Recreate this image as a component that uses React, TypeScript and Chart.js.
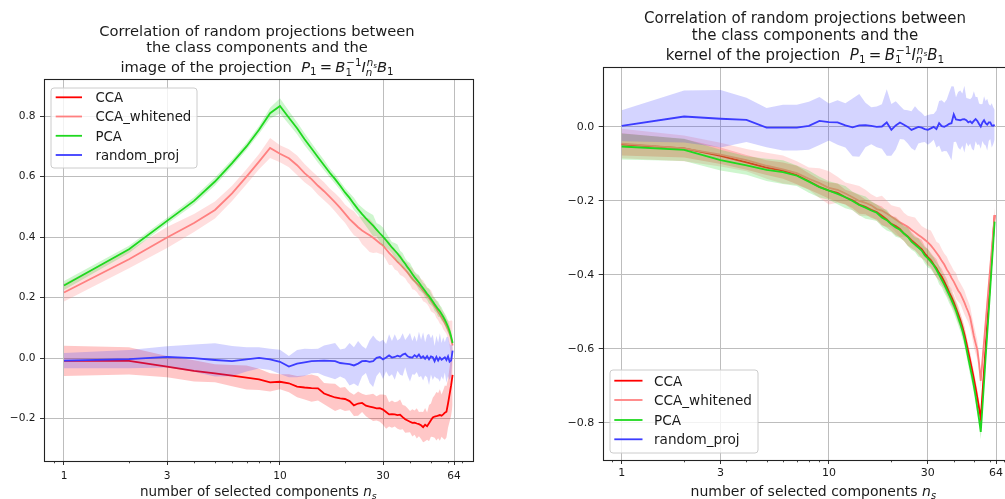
import React, { useEffect, useRef } from "react";
import { Chart, registerables } from "chart.js";

Chart.register(...registerables);

// ---------- data ----------
const NS = [1, 2, 3, 4, 5, 6, 7, 8, 9, 10, 11, 12, 13, 14, 15, 16, 17, 18, 19, 20, 21, 22, 23, 24, 25, 26, 27, 28, 29, 30, 31, 32, 33, 34, 35, 36, 37, 38, 39, 40, 41, 42, 43, 44, 45, 46, 47, 48, 49, 50, 51, 52, 53, 54, 55, 56, 57, 58, 59, 60, 61, 62, 63];

const X_TICKS = [1, 3, 10, 30, 64];
const X_MINOR_TICKS = [0.9, 2, 4, 5, 6, 7, 8, 9, 20, 40, 50, 60, 70];
const Y_TICKS_IMAGE = [-0.2, 0, 0.2, 0.4, 0.6, 0.8];
const Y_TICKS_KERNEL = [-0.8, -0.6, -0.4, -0.2, 0];

const SERIES_NAMES = ["CCA", "CCA_whitened", "PCA", "random_proj"];
const SERIES_COLORS = ["#ff0000", "#ff8080", "#1fd81f", "#3c3cff"];
const BAND_COLORS = ["rgba(255,0,0,0.22)", "rgba(255,128,128,0.26)", "rgba(31,216,31,0.22)", "rgba(60,60,255,0.22)"];

// left panel: image of the projection
const ccaImage = [-0.009, -0.009, -0.028, -0.042, -0.05, -0.058, -0.064, -0.07, -0.08, -0.078,
  -0.083, -0.094, -0.097, -0.099, -0.1, -0.117, -0.124, -0.13, -0.133, -0.135,
  -0.142, -0.156, -0.15, -0.148, -0.157, -0.16, -0.163, -0.166, -0.165, -0.17,
  -0.178, -0.186, -0.185, -0.186, -0.188, -0.187, -0.195, -0.202, -0.206, -0.21,
  -0.214, -0.213, -0.216, -0.218, -0.222, -0.228, -0.22, -0.225, -0.215, -0.205,
  -0.196, -0.193, -0.192, -0.19, -0.188, -0.19, -0.186, -0.18, -0.177, -0.15,
  -0.12, -0.09, -0.055];
const ccaImageSd = [0.05, 0.045, 0.035, 0.035, 0.03, 0.035, 0.04, 0.035, 0.03, 0.025,
  0.03, 0.035, 0.04, 0.045, 0.04, 0.035, 0.04, 0.045, 0.035, 0.04,
  0.03, 0.035, 0.04, 0.03, 0.035, 0.04, 0.045, 0.04, 0.045, 0.05,
  0.055, 0.04, 0.045, 0.04, 0.045, 0.05, 0.04, 0.045, 0.04, 0.035,
  0.045, 0.04, 0.05, 0.04, 0.045, 0.05, 0.055, 0.045, 0.06, 0.055,
  0.065, 0.07, 0.08, 0.075, 0.085, 0.07, 0.08, 0.09, 0.085, 0.08,
  0.09, 0.1, 0.1];
const whitenedImage = [0.217, 0.327, 0.399, 0.447, 0.49, 0.545, 0.6, 0.65, 0.695, 0.676,
  0.661, 0.638, 0.612, 0.592, 0.57, 0.552, 0.533, 0.515, 0.497, 0.478,
  0.46, 0.446, 0.433, 0.422, 0.414, 0.406, 0.398, 0.389, 0.38, 0.372,
  0.36, 0.348, 0.338, 0.328, 0.318, 0.31, 0.301, 0.292, 0.283, 0.273,
  0.263, 0.255, 0.247, 0.24, 0.232, 0.223, 0.215, 0.207, 0.199, 0.19,
  0.181, 0.172, 0.163, 0.153, 0.144, 0.135, 0.126, 0.116, 0.106, 0.095,
  0.082, 0.065, 0.042];
const whitenedImageSd = [0.03, 0.03, 0.035, 0.03, 0.028, 0.025, 0.025, 0.025, 0.033, 0.028,
  0.03, 0.032, 0.03, 0.028, 0.03, 0.03, 0.028, 0.03, 0.032, 0.03,
  0.035, 0.04, 0.035, 0.045, 0.05, 0.055, 0.05, 0.04, 0.035, 0.03,
  0.035, 0.04, 0.03, 0.035, 0.03, 0.035, 0.03, 0.028, 0.032, 0.03,
  0.035, 0.03, 0.028, 0.032, 0.03, 0.035, 0.03, 0.028, 0.03, 0.035,
  0.03, 0.025, 0.03, 0.028, 0.03, 0.025, 0.03, 0.028, 0.025, 0.03,
  0.04, 0.06, 0.08];
const pcaImage = [0.24, 0.36, 0.454, 0.52, 0.584, 0.645, 0.7, 0.755, 0.81, 0.834,
  0.795, 0.76, 0.724, 0.693, 0.664, 0.638, 0.613, 0.592, 0.57, 0.548,
  0.53, 0.51, 0.492, 0.476, 0.462, 0.45, 0.438, 0.425, 0.413, 0.402,
  0.39, 0.378, 0.366, 0.356, 0.346, 0.335, 0.323, 0.312, 0.3, 0.29,
  0.278, 0.268, 0.259, 0.25, 0.24, 0.231, 0.222, 0.213, 0.205, 0.196,
  0.187, 0.178, 0.17, 0.162, 0.155, 0.146, 0.137, 0.127, 0.116, 0.104,
  0.09, 0.072, 0.05];
const pcaImageSd = [0.015, 0.012, 0.01, 0.012, 0.013, 0.012, 0.012, 0.013, 0.018, 0.025,
  0.022, 0.02, 0.02, 0.018, 0.018, 0.017, 0.015, 0.015, 0.014, 0.015,
  0.016, 0.02, 0.018, 0.022, 0.025, 0.03, 0.035, 0.022, 0.028, 0.03,
  0.025, 0.02, 0.018, 0.025, 0.03, 0.02, 0.025, 0.018, 0.02, 0.025,
  0.022, 0.018, 0.02, 0.025, 0.02, 0.018, 0.022, 0.02, 0.025, 0.02,
  0.018, 0.022, 0.02, 0.025, 0.02, 0.022, 0.018, 0.02, 0.022, 0.02,
  0.018, 0.015, 0.01];
const randomImage = [-0.008, -0.003, 0.004, 0.0, -0.006, -0.01, -0.004, 0.001, -0.004, -0.012,
  -0.028, -0.018, -0.014, -0.01, -0.009, -0.008, -0.009, -0.01, -0.016, -0.018,
  -0.02, -0.024, -0.018, -0.01, -0.009, -0.012, -0.01, 0.001, 0.004, -0.004,
  0.002, 0.009, 0.002, 0.004, 0.008, 0.005, 0.012, 0.015, 0.006, 0.003,
  0.002, 0.01, 0.004, 0.012, 0.001, 0.006, -0.002, 0.007, -0.004, 0.006,
  0.003, -0.01, 0.004, -0.008, 0.002, -0.005, -0.001, 0.003, -0.006, 0.006,
  -0.012, -0.008, 0.025];
const randomImageSd = [0.025, 0.03, 0.035, 0.045, 0.055, 0.05, 0.04, 0.035, 0.035, 0.04,
  0.035, 0.045, 0.045, 0.04, 0.04, 0.05, 0.055, 0.06, 0.045, 0.05,
  0.07, 0.06, 0.075, 0.05, 0.04, 0.07, 0.085, 0.06, 0.05, 0.065,
  0.045, 0.07, 0.055, 0.075, 0.05, 0.06, 0.07, 0.045, 0.065, 0.08,
  0.055, 0.065, 0.05, 0.075, 0.06, 0.08, 0.055, 0.07, 0.085, 0.06,
  0.075, 0.05, 0.07, 0.06, 0.08, 0.055, 0.07, 0.05, 0.075, 0.065,
  0.06, 0.05, 0.02];

// right panel: kernel of the projection
const ccaKernel = [-0.047, -0.058, -0.078, -0.096, -0.11, -0.118, -0.13, -0.147, -0.162, -0.172,
  -0.178, -0.19, -0.198, -0.21, -0.216, -0.224, -0.23, -0.24, -0.25, -0.262,
  -0.268, -0.276, -0.288, -0.296, -0.306, -0.314, -0.322, -0.33, -0.342, -0.352,
  -0.36, -0.372, -0.382, -0.395, -0.405, -0.418, -0.432, -0.447, -0.46, -0.474,
  -0.49, -0.506, -0.522, -0.54, -0.56, -0.583, -0.608, -0.632, -0.656, -0.68,
  -0.706, -0.732, -0.76, -0.788, -0.722, -0.658, -0.595, -0.533, -0.472, -0.412,
  -0.353, -0.295, -0.238];
const ccaKernelSd = [0.03, 0.025, 0.022, 0.02, 0.02, 0.022, 0.025, 0.022, 0.02, 0.022,
  0.025, 0.02, 0.022, 0.025, 0.02, 0.022, 0.02, 0.025, 0.022, 0.02,
  0.025, 0.022, 0.02, 0.025, 0.022, 0.02, 0.022, 0.025, 0.02, 0.022,
  0.02, 0.022, 0.025, 0.02, 0.022, 0.02, 0.022, 0.02, 0.022, 0.02,
  0.02, 0.022, 0.02, 0.02, 0.022, 0.02, 0.02, 0.022, 0.02, 0.02,
  0.02, 0.022, 0.02, 0.02, 0.02, 0.02, 0.02, 0.02, 0.02, 0.02,
  0.02, 0.02, 0.02];
const whitenedKernel = [-0.045, -0.058, -0.075, -0.09, -0.105, -0.115, -0.125, -0.14, -0.152, -0.165,
  -0.17, -0.18, -0.19, -0.2, -0.205, -0.212, -0.222, -0.226, -0.234, -0.242,
  -0.25, -0.258, -0.264, -0.27, -0.278, -0.285, -0.292, -0.298, -0.305, -0.312,
  -0.32, -0.33, -0.34, -0.35, -0.362, -0.372, -0.385, -0.395, -0.408, -0.418,
  -0.43, -0.442, -0.45, -0.462, -0.474, -0.488, -0.5, -0.515, -0.54, -0.565,
  -0.585, -0.603, -0.64, -0.686, -0.632, -0.58, -0.529, -0.478, -0.428, -0.379,
  -0.332, -0.284, -0.238];
const whitenedKernelSd = [0.04, 0.035, 0.032, 0.03, 0.035, 0.038, 0.032, 0.03, 0.04, 0.045,
  0.035, 0.03, 0.035, 0.04, 0.035, 0.03, 0.032, 0.04, 0.035, 0.03,
  0.035, 0.04, 0.032, 0.03, 0.035, 0.04, 0.035, 0.03, 0.032, 0.035,
  0.04, 0.035, 0.03, 0.035, 0.032, 0.03, 0.035, 0.03, 0.032, 0.03,
  0.035, 0.03, 0.028, 0.03, 0.032, 0.03, 0.028, 0.03, 0.028, 0.03,
  0.028, 0.025, 0.025, 0.02, 0.02, 0.02, 0.02, 0.02, 0.02, 0.02,
  0.02, 0.02, 0.02];
const pcaKernel = [-0.053, -0.062, -0.09, -0.104, -0.116, -0.122, -0.132, -0.148, -0.163, -0.172,
  -0.181, -0.19, -0.2, -0.211, -0.218, -0.226, -0.232, -0.245, -0.252, -0.263,
  -0.272, -0.278, -0.288, -0.297, -0.31, -0.318, -0.326, -0.334, -0.347, -0.355,
  -0.364, -0.374, -0.386, -0.4, -0.413, -0.426, -0.44, -0.454, -0.468, -0.482,
  -0.497, -0.515, -0.532, -0.55, -0.572, -0.598, -0.625, -0.65, -0.674, -0.7,
  -0.728, -0.76, -0.79, -0.824, -0.757, -0.69, -0.622, -0.56, -0.498, -0.436,
  -0.374, -0.316, -0.256];
const pcaKernelSd = [0.035, 0.03, 0.028, 0.025, 0.03, 0.032, 0.028, 0.03, 0.028, 0.025,
  0.028, 0.03, 0.025, 0.028, 0.03, 0.025, 0.022, 0.025, 0.028, 0.022,
  0.025, 0.022, 0.02, 0.025, 0.022, 0.02, 0.025, 0.02, 0.022, 0.025,
  0.02, 0.022, 0.02, 0.025, 0.02, 0.022, 0.02, 0.022, 0.02, 0.02,
  0.022, 0.02, 0.02, 0.022, 0.02, 0.02, 0.02, 0.022, 0.02, 0.02,
  0.02, 0.02, 0.02, 0.02, 0.018, 0.016, 0.015, 0.015, 0.015, 0.015,
  0.015, 0.015, 0.015];
const randomKernel = [0.003, 0.028, 0.022, 0.019, -0.002, -0.002, -0.002, 0.003, 0.016, 0.013,
  0.012, 0.004, -0.001, 0.004, 0.005, 0.003, 0.0, 0.001, 0.012, -0.008,
  0.004, 0.012, 0.006, 0.0, -0.008, -0.004, 0.0, -0.002, -0.006, -0.008,
  -0.004, 0.0, -0.006, 0.01, 0.002, 0.0, 0.004, 0.008, 0.01, 0.034,
  0.02, 0.019, 0.018, 0.02, 0.021, 0.018, 0.012, 0.015, 0.01, 0.016,
  0.021, 0.016, 0.008, 0.001, 0.012, 0.018, 0.01, 0.006, 0.012, 0.012,
  0.004, 0.003, 0.006];
const randomKernelSd = [0.042, 0.07, 0.078, 0.06, 0.053, 0.062, 0.062, 0.065, 0.065, 0.05,
  0.06, 0.06, 0.078, 0.085, 0.06, 0.05, 0.055, 0.06, 0.09, 0.07,
  0.065, 0.045, 0.04, 0.045, 0.05, 0.06, 0.045, 0.04, 0.035, 0.04,
  0.038, 0.035, 0.05, 0.06, 0.07, 0.065, 0.07, 0.085, 0.1, 0.075,
  0.06, 0.075, 0.08, 0.07, 0.09, 0.06, 0.065, 0.06, 0.07, 0.08,
  0.06, 0.065, 0.055, 0.06, 0.05, 0.065, 0.06, 0.07, 0.05, 0.045,
  0.06, 0.05, 0.04];

// ---------- rich text (mathtext-like) ----------
type RNode = { t?: string; it?: boolean; gap?: number; sup?: RNode[]; sub?: RNode[] };
const FAMILY = '"DejaVu Sans", sans-serif';
const TEXT_COLOR = "#1a1a1a";

function setFont(ctx: CanvasRenderingContext2D, size: number, it?: boolean) {
  ctx.font = `${it ? "italic " : ""}${size}px ${FAMILY}`;
}
function nodesWidth(ctx: CanvasRenderingContext2D, nodes: RNode[], size: number): number {
  let w = 0;
  for (const n of nodes) w += nodeWidth(ctx, n, size);
  return w;
}
function nodeWidth(ctx: CanvasRenderingContext2D, n: RNode, size: number): number {
  if (n.gap) return n.gap * size;
  setFont(ctx, size, n.it);
  const w = ctx.measureText(n.t || "").width;
  const ss = size * 0.7;
  const supOff = n.it ? 0.06 * size : 0;
  const wSup = n.sup ? nodesWidth(ctx, n.sup, ss) + supOff : 0;
  const wSub = n.sub ? nodesWidth(ctx, n.sub, ss) : 0;
  return w + Math.max(wSup, wSub);
}
function drawNodes(ctx: CanvasRenderingContext2D, nodes: RNode[], x: number, y: number, size: number): number {
  for (const n of nodes) x = drawNode(ctx, n, x, y, size);
  return x;
}
function drawNode(ctx: CanvasRenderingContext2D, n: RNode, x: number, y: number, size: number): number {
  if (n.gap) return x + n.gap * size;
  setFont(ctx, size, n.it);
  const t = n.t || "";
  ctx.fillText(t, x, y);
  const w = ctx.measureText(t).width;
  const ss = size * 0.7;
  let end = x + w;
  if (n.sup) {
    const supOff = n.it ? 0.06 * size : 0;
    end = Math.max(end, drawNodes(ctx, n.sup, x + w + supOff, y - 0.4 * size, ss));
  }
  if (n.sub) {
    end = Math.max(end, drawNodes(ctx, n.sub, x + w, y + (n.sup ? 0.26 : 0.2) * size, ss));
  }
  return end;
}
function drawCentered(ctx: CanvasRenderingContext2D, nodes: RNode[], cx: number, y: number, size: number) {
  const w = nodesWidth(ctx, nodes, size);
  ctx.textAlign = "left";
  ctx.textBaseline = "alphabetic";
  drawNodes(ctx, nodes, cx - w / 2, y, size);
}

const PROJ_MATH: RNode[] = [
  { t: "P", it: true, sub: [{ t: "1" }] },
  { gap: 0.22 },
  { t: "=" },
  { gap: 0.22 },
  { t: "B", it: true, sup: [{ t: "\u22121" }], sub: [{ t: "1" }] },
  { t: "I", it: true, sup: [{ t: "n", it: true, sub: [{ t: "s", it: true }] }], sub: [{ t: "n", it: true }] },
  { t: "B", it: true, sub: [{ t: "1" }] },
];
const TITLE_IMAGE: RNode[][] = [
  [{ t: "Correlation of random projections between" }],
  [{ t: "the class components and the" }],
  [{ t: "image of the projection  " }, ...PROJ_MATH],
];
const TITLE_KERNEL: RNode[][] = [
  [{ t: "Correlation of random projections between" }],
  [{ t: "the class components and the" }],
  [{ t: "kernel of the projection  " }, ...PROJ_MATH],
];
const X_LABEL: RNode[] = [{ t: "number of selected components " }, { t: "n", it: true, sub: [{ t: "s", it: true }] }];

// ---------- panel layout ----------
type Panel = {
  canvasLeft: number;
  canvasWidth: number;
  area: { left: number; right: number; top: number; bottom: number };
  xMin: number; xMax: number; yMin: number; yMax: number;
  yTicks: number[];
  means: number[][]; sds: number[][];
  title: RNode[][]; titleX: number; titleBase: number[]; titleSize: number;
  labelX: number; labelBase: number; labelSize: number;
  tickSize: number; xTickPad: number; yTickPad: number;
  legend: { x: number; y: number; w: number; h: number; rows: number[]; h0: number; h1: number; tx: number; size: number };
};
const H = 499;

const PANELS: Panel[] = [
  {
    canvasLeft: 0, canvasWidth: 500,
    area: { left: 44, right: 473, top: 79, bottom: 461 },
    xMin: 0.808, xMax: 78.3, yMin: -0.34, yMax: 0.923,
    yTicks: Y_TICKS_IMAGE,
    means: [ccaImage, whitenedImage, pcaImage, randomImage],
    sds: [ccaImageSd, whitenedImageSd, pcaImageSd, randomImageSd],
    title: TITLE_IMAGE, titleX: 257, titleBase: [35.5, 52.3, 72], titleSize: 14.7,
    labelX: 258.3, labelBase: 496, labelSize: 13.5,
    tickSize: 10.6, xTickPad: 4.6, yTickPad: 4.5,
    legend: { x: 51, y: 88, w: 146, h: 80, rows: [97.3, 116.5, 135.8, 155], h0: 55.7, h1: 82, tx: 95.5, size: 13.3 },
  },
  {
    canvasLeft: 500, canvasWidth: 530,
    area: { left: 102.7, right: 514.8, top: 67.3, bottom: 460 },
    xMin: 0.81, xMax: 78.8, yMin: -0.9, yMax: 0.161,
    yTicks: Y_TICKS_KERNEL,
    means: [ccaKernel, whitenedKernel, pcaKernel, randomKernel],
    sds: [ccaKernelSd, whitenedKernelSd, pcaKernelSd, randomKernelSd],
    title: TITLE_KERNEL, titleX: 305, titleBase: [22.5, 39.5, 59.5], titleSize: 15,
    labelX: 313.3, labelBase: 496, labelSize: 14,
    tickSize: 11, xTickPad: 2.2, yTickPad: 4.4,
    legend: { x: 110, y: 370, w: 148, h: 83, rows: [380.7, 400, 420, 439.3], h0: 114.3, h1: 142.5, tx: 154, size: 13.6 },
  },
];

function fmtY(v: number): string {
  const s = Math.abs(v).toFixed(1);
  return v < -1e-9 ? "\u2212" + s : s;
}

function makeDatasets(p: Panel) {
  const ds: any[] = [];
  p.means.forEach((m, k) => {
    const sd = p.sds[k];
    const base = (3 - k) * 2;
    ds.push({
      label: SERIES_NAMES[k] + " upper",
      data: NS.map((n, i) => ({ x: n, y: m[i] + sd[i] })),
      borderColor: "rgba(0,0,0,0)", borderWidth: 0, backgroundColor: BAND_COLORS[k],
      fill: "+1", pointRadius: 0, order: base + 2,
    });
    ds.push({
      label: SERIES_NAMES[k] + " lower",
      data: NS.map((n, i) => ({ x: n, y: m[i] - sd[i] })),
      borderColor: "rgba(0,0,0,0)", borderWidth: 0, backgroundColor: "rgba(0,0,0,0)",
      fill: false, pointRadius: 0, order: base + 2,
    });
    ds.push({
      label: SERIES_NAMES[k],
      data: NS.map((n, i) => ({ x: n, y: m[i] })),
      borderColor: SERIES_COLORS[k], borderWidth: 1.8, backgroundColor: SERIES_COLORS[k],
      fill: false, pointRadius: 0, order: base + 1,
    });
  });
  return ds;
}

function decorPlugin(p: Panel) {
  return {
    id: "decor",
    afterDatasetsDraw(chart: any) {
      const ctx: CanvasRenderingContext2D = chart.ctx;
      const a = chart.chartArea;
      const xs = chart.scales.x;
      ctx.save();
      ctx.strokeStyle = "#333";
      ctx.lineWidth = 0.9;
      for (const v of X_MINOR_TICKS) {
        if (v < p.xMin || v > p.xMax) continue;
        const px = Math.round(xs.getPixelForValue(v)) + 0.5;
        ctx.beginPath();
        ctx.moveTo(px, a.bottom);
        ctx.lineTo(px, a.bottom + 2.3);
        ctx.stroke();
      }
      ctx.strokeStyle = "#222";
      ctx.lineWidth = 1.1;
      ctx.strokeRect(Math.round(a.left) + 0.5, Math.round(a.top) + 0.5, Math.round(a.right - a.left), Math.round(a.bottom - a.top));
      ctx.restore();
    },
    afterDraw(chart: any) {
      const ctx: CanvasRenderingContext2D = chart.ctx;
      ctx.save();
      ctx.fillStyle = TEXT_COLOR;
      p.title.forEach((line, i) => drawCentered(ctx, line, p.titleX, p.titleBase[i], p.titleSize));
      drawCentered(ctx, X_LABEL, p.labelX, p.labelBase, p.labelSize);

      const L = p.legend;
      const r = 3;
      ctx.beginPath();
      ctx.moveTo(L.x + r, L.y);
      ctx.lineTo(L.x + L.w - r, L.y);
      ctx.quadraticCurveTo(L.x + L.w, L.y, L.x + L.w, L.y + r);
      ctx.lineTo(L.x + L.w, L.y + L.h - r);
      ctx.quadraticCurveTo(L.x + L.w, L.y + L.h, L.x + L.w - r, L.y + L.h);
      ctx.lineTo(L.x + r, L.y + L.h);
      ctx.quadraticCurveTo(L.x, L.y + L.h, L.x, L.y + L.h - r);
      ctx.lineTo(L.x, L.y + r);
      ctx.quadraticCurveTo(L.x, L.y, L.x + r, L.y);
      ctx.closePath();
      ctx.fillStyle = "rgba(255,255,255,0.8)";
      ctx.fill();
      ctx.strokeStyle = "#cccccc";
      ctx.lineWidth = 1;
      ctx.stroke();
      SERIES_NAMES.forEach((name, k) => {
        const y = L.rows[k];
        ctx.strokeStyle = SERIES_COLORS[k];
        ctx.lineWidth = 1.8;
        ctx.beginPath();
        ctx.moveTo(L.h0, y);
        ctx.lineTo(L.h1, y);
        ctx.stroke();
        ctx.fillStyle = TEXT_COLOR;
        setFont(ctx, L.size);
        ctx.textAlign = "left";
        ctx.textBaseline = "alphabetic";
        ctx.fillText(name, L.tx, y + 0.36 * L.size);
      });
      ctx.restore();
    },
  };
}

function PanelChart({ p }: { p: Panel }) {
  const ref = useRef<HTMLCanvasElement | null>(null);
  useEffect(() => {
    if (!ref.current) return;
    const chart = new Chart(ref.current, {
      type: "line",
      data: { datasets: makeDatasets(p) },
      options: {
        animation: false,
        responsive: false,
        maintainAspectRatio: false,
        events: [],
        layout: {
          autoPadding: false,
          padding: { left: 0, right: p.canvasWidth - p.area.right, top: p.area.top, bottom: 0 },
        },
        plugins: { legend: { display: false }, tooltip: { enabled: false }, title: { display: false } },
        elements: { point: { radius: 0 }, line: { tension: 0 } },
        scales: {
          x: {
            type: "logarithmic",
            min: p.xMin,
            max: p.xMax,
            afterFit: (s: any) => { s.height = H - p.area.bottom; },
            afterBuildTicks: (s: any) => { s.ticks = X_TICKS.map((v) => ({ value: v })); },
            ticks: {
              autoSkip: false, maxRotation: 0, minRotation: 0,
              padding: p.xTickPad, color: TEXT_COLOR,
              font: { family: FAMILY, size: p.tickSize },
              callback: (v: any) => String(v),
            },
            grid: { color: "#bdbdbd", lineWidth: 1, drawTicks: true, tickLength: 4, tickColor: "#333", tickWidth: 1 },
            border: { display: false },
          },
          y: {
            type: "linear",
            min: p.yMin,
            max: p.yMax,
            afterFit: (s: any) => { s.width = p.area.left; },
            afterBuildTicks: (s: any) => { s.ticks = p.yTicks.map((v) => ({ value: v })); },
            ticks: {
              autoSkip: false, padding: p.yTickPad, color: TEXT_COLOR,
              font: { family: FAMILY, size: p.tickSize },
              callback: (v: any) => fmtY(Number(v)),
            },
            grid: { color: "#bdbdbd", lineWidth: 1, drawTicks: true, tickLength: 4, tickColor: "#333", tickWidth: 1 },
            border: { display: false },
          },
        },
      },
      plugins: [decorPlugin(p)],
    } as any);
    return () => chart.destroy();
  }, [p]);
  return (
    <canvas
      ref={ref}
      width={p.canvasWidth}
      height={H}
      style={{ position: "absolute", left: p.canvasLeft, top: 0, width: p.canvasWidth, height: H, display: "block" }}
    />
  );
}

export default function App() {
  return (
    <div style={{ position: "absolute", left: 0, top: 0, width: 1005, height: H, overflow: "hidden", background: "#fff" }}>
      {PANELS.map((p, i) => (
        <PanelChart key={i} p={p} />
      ))}
    </div>
  );
}
